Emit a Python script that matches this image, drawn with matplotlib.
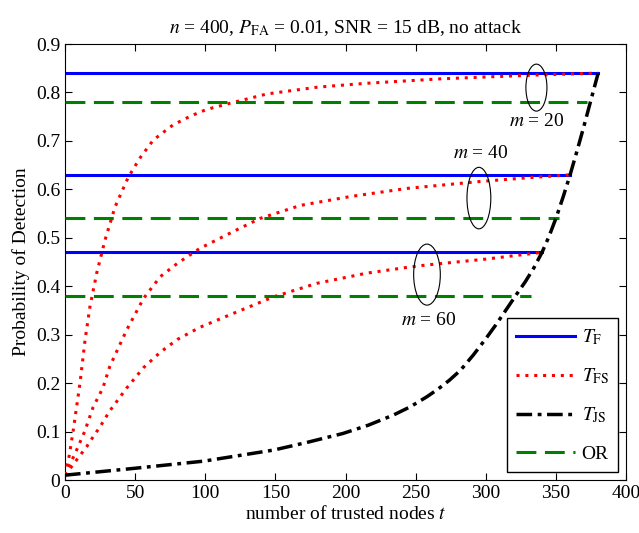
import numpy as np
import matplotlib
matplotlib.use("Agg")
import matplotlib.pyplot as plt
from matplotlib.patches import Ellipse

plt.rcParams['font.family'] = ['Liberation Serif', 'DejaVu Serif']
plt.rcParams['mathtext.fontset'] = 'stix'
plt.rcParams['font.size'] = 14

# ---- data ----
n = 400
m_values = [20, 40, 60]
tf_level = [0.84, 0.63, 0.47]      # T_F (flat)
or_level = [0.78, 0.54, 0.38]      # OR (flat)
or_t_end = [372, 352, 332]

# T_FS curves, one per m
tfs_t_m20 = [0, 3, 5.9, 10.7, 14.3, 17.8, 22.6, 28.5, 35.7, 45.1, 53.5, 63, 77, 90, 101,
             118, 144, 180, 215, 244, 267, 300, 336, 380]
tfs_p_m20 = [0.01, 0.05, 0.103, 0.20, 0.289, 0.358, 0.427, 0.495, 0.564, 0.625, 0.665, 0.702,
             0.733, 0.752, 0.765, 0.778, 0.797, 0.811, 0.819, 0.824, 0.828, 0.832, 0.836, 0.84]
tfs_t_m40 = [0, 4, 8, 14, 20, 27, 32, 44, 56, 68, 80, 96, 120, 139, 168, 203, 244, 295, 330, 360]
tfs_p_m40 = [0.01, 0.035, 0.06, 0.10, 0.15, 0.19, 0.235, 0.31, 0.375, 0.42, 0.447, 0.478,
             0.513, 0.54, 0.567, 0.585, 0.602, 0.616, 0.624, 0.63]
tfs_t_m60 = [0, 4, 10, 15.5, 20, 25, 32, 44, 56, 68, 80, 96, 120, 148.5, 179.5, 215, 244,
             258, 300, 340]
tfs_p_m60 = [0.01, 0.025, 0.048, 0.069, 0.089, 0.11, 0.143, 0.19, 0.232, 0.264, 0.29, 0.315,
             0.344, 0.378, 0.406, 0.427, 0.439, 0.444, 0.456, 0.47]

# T_JS curve
tjs_t = [0, 49, 99, 149, 173, 198, 216, 234, 246, 258, 266, 274, 282, 291, 300, 307, 315,
         322, 328, 334, 340, 345, 350, 355, 360, 365, 370, 375, 380]
tjs_p = [0.01, 0.024, 0.039, 0.062, 0.078, 0.096, 0.113, 0.134, 0.151, 0.172, 0.188, 0.206,
         0.227, 0.258, 0.292, 0.32, 0.354, 0.384, 0.409, 0.437, 0.47, 0.503, 0.541, 0.584,
         0.63, 0.68, 0.732, 0.786, 0.84]

# annotation positions (ellipse centre, label) per m
ell_center = [(336, 0.81), (295, 0.582), (258, 0.424)]
ell_size = [(15, 0.097), (17, 0.127), (19, 0.126)]
label_pos = [(336, 0.74), (296, 0.674), (259, 0.33)]

fig = plt.figure(figsize=(6.39, 5.33), dpi=100)
ax = fig.add_axes([0.1017, 0.0994, 0.8783, 0.818])

tfs_t = [tfs_t_m20, tfs_t_m40, tfs_t_m60]
tfs_p = [tfs_p_m20, tfs_p_m40, tfs_p_m60]

for i, m in enumerate(m_values):
    lab_f = r'$T_{\mathrm{F}}$' if i == 0 else None
    lab_fs = r'$T_{\mathrm{FS}}$' if i == 0 else None
    ax.plot([0, n - m], [tf_level[i], tf_level[i]], color='blue', lw=2.2, label=lab_f, zorder=2)
    ax.plot(tfs_t[i], tfs_p[i], color='red', lw=2.2, linestyle=(0, (1.0, 1.9)),
            label=lab_fs, zorder=3)

ax.plot(tjs_t, tjs_p, color='black', lw=2.5, linestyle=(0, (4.5, 1.6, 1.1, 1.6)),
        label=r'$T_{\mathrm{JS}}$', zorder=4)

for i, m in enumerate(m_values):
    ax.plot([0, or_t_end[i]], [or_level[i], or_level[i]], color='green', lw=2.2,
            linestyle=(0, (6.5, 2.8)), label='OR' if i == 0 else None, zorder=3)

for i, m in enumerate(m_values):
    ax.add_patch(Ellipse(ell_center[i], ell_size[i][0], ell_size[i][1], fill=False,
                         edgecolor='black', lw=0.8, zorder=5))
    ax.text(label_pos[i][0], label_pos[i][1], rf'$m$ = {m}', ha='center', va='center', fontsize=14)

ax.set_xlim(0, 400)
ax.set_ylim(0, 0.9)
ax.set_xticks(np.arange(0, 401, 50))
ax.set_yticks(np.arange(0, 0.91, 0.1))
ax.set_yticklabels(['0'] + [f'{v:.1f}' for v in np.arange(0.1, 0.91, 0.1)])
ax.tick_params(direction='in', top=True, right=True, length=5, labelsize=14)
ax.set_xlabel(r'number of trusted nodes $t$', fontsize=14, labelpad=2)
ax.set_ylabel('Probability of Detection', fontsize=14, labelpad=4)
ax.set_title(r'$n$ = 400, $P_{\mathrm{FA}}$ = 0.01, SNR = 15 dB, no attack', fontsize=14, pad=8)

leg = ax.legend(loc='lower right', handlelength=3.0, handletextpad=0.35, labelspacing=1.0,
                borderaxespad=0.4, borderpad=0.5, fancybox=False, edgecolor='black',
                framealpha=1, fontsize=14)
leg.get_frame().set_linewidth(1.0)

fig.savefig('out.png', dpi=100)
